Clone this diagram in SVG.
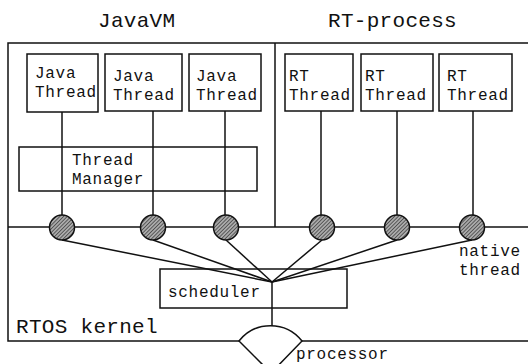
<svg xmlns="http://www.w3.org/2000/svg" width="528" height="364" viewBox="0 0 528 364">
  <style>
    .ln { fill: none; stroke: #111; stroke-width: 1.5; }
    .box { fill: #fff; stroke: #111; stroke-width: 1.5; }
    .t { font-family: "Liberation Mono", "Courier New", monospace; font-size: 16px; letter-spacing: 0.7px; fill: #111; }
    .big { font-size: 21px; letter-spacing: 0.3px; }
    .nt { fill: url(#hatch); stroke: #111; stroke-width: 1.5; }
  </style>
  <defs>
    <pattern id="hatch" patternUnits="userSpaceOnUse" width="2.6" height="2.6" patternTransform="rotate(45)">
      <rect width="2.6" height="2.6" fill="#aaa"/>
      <line x1="0" y1="0" x2="0" y2="2.6" stroke="#1a1a1a" stroke-width="1.1"/>
    </pattern>
  </defs>

  <rect width="528" height="364" fill="#fff"/>

  <!-- titles -->
  <text class="t big" x="98" y="27">JavaVM</text>
  <text class="t big" x="328" y="27">RT-process</text>

  <!-- frame: address spaces above, kernel below -->
  <g id="frame">
    <path class="ln" d="M528 43 H8 V341 H239 M302 341 H528"/>
    <line class="ln" x1="275" y1="43" x2="275" y2="227"/>
    <line class="ln" x1="8" y1="227" x2="528" y2="227"/>
  </g>

  <!-- connectors -->
  <g id="connectors" class="ln">
    <line x1="62" y1="112" x2="62" y2="227"/>
    <line x1="153" y1="111" x2="153" y2="227"/>
    <line x1="225" y1="111" x2="225" y2="227"/>
    <line x1="321" y1="111" x2="321" y2="227"/>
    <line x1="397" y1="111" x2="397" y2="227"/>
    <line x1="473" y1="111" x2="473" y2="227"/>
    <line x1="62" y1="240" x2="272" y2="282"/>
    <line x1="153" y1="240" x2="272" y2="282"/>
    <line x1="226" y1="240" x2="272" y2="282"/>
    <line x1="322" y1="240" x2="272" y2="282"/>
    <line x1="397" y1="240" x2="272" y2="282"/>
    <line x1="472" y1="240" x2="272" y2="282"/>
  </g>

  <!-- Java threads -->
  <g id="java-thread-1">
    <rect class="box" x="27" y="54" width="71" height="58"/>
    <text class="t" x="35" y="78">Java</text>
    <text class="t" x="35" y="97">Thread</text>
  </g>
  <g id="java-thread-2">
    <rect class="box" x="105" y="54" width="77" height="57"/>
    <text class="t" x="113" y="81">Java</text>
    <text class="t" x="113" y="100">Thread</text>
  </g>
  <g id="java-thread-3">
    <rect class="box" x="189" y="54" width="72" height="57"/>
    <text class="t" x="196" y="81">Java</text>
    <text class="t" x="196" y="100">Thread</text>
  </g>

  <!-- RT threads -->
  <g id="rt-thread-1">
    <rect class="box" x="285" y="54" width="68" height="57"/>
    <text class="t" x="289" y="81">RT</text>
    <text class="t" x="289" y="100">Thread</text>
  </g>
  <g id="rt-thread-2">
    <rect class="box" x="361" y="54" width="72" height="57"/>
    <text class="t" x="365" y="81">RT</text>
    <text class="t" x="365" y="100">Thread</text>
  </g>
  <g id="rt-thread-3">
    <rect class="box" x="439" y="54" width="73" height="57"/>
    <text class="t" x="447" y="81">RT</text>
    <text class="t" x="447" y="100">Thread</text>
  </g>

  <!-- thread manager (thread lines pass through it) -->
  <g id="thread-manager">
    <rect class="ln" x="19" y="147" width="238" height="44"/>
    <text class="t" x="72" y="165">Thread</text>
    <text class="t" x="72" y="184">Manager</text>
  </g>

  <!-- native threads -->
  <g id="native-threads">
    <circle class="nt" cx="62" cy="227.5" r="12.5"/>
    <circle class="nt" cx="153" cy="227.5" r="12.5"/>
    <circle class="nt" cx="226" cy="227.5" r="12.5"/>
    <circle class="nt" cx="322" cy="227.5" r="12.5"/>
    <circle class="nt" cx="397" cy="227.5" r="12.5"/>
    <circle class="nt" cx="472" cy="227.5" r="12.5"/>
    <text class="t" x="459" y="256">native</text>
    <text class="t" x="459" y="275">thread</text>
  </g>

  <!-- scheduler -->
  <g id="scheduler">
    <rect class="ln" x="160" y="269" width="187" height="39"/>
    <text class="t" x="168" y="297">scheduler</text>
    <line class="ln" x1="272" y1="282" x2="272" y2="326"/>
  </g>

  <text class="t big" x="16" y="333">RTOS kernel</text>

  <!-- processor -->
  <g id="processor">
    <path class="ln" d="M239 341 A40 40 0 0 1 302 341 L271 373 Z"/>
    <text class="t" x="296" y="359">processor</text>
  </g>
</svg>
